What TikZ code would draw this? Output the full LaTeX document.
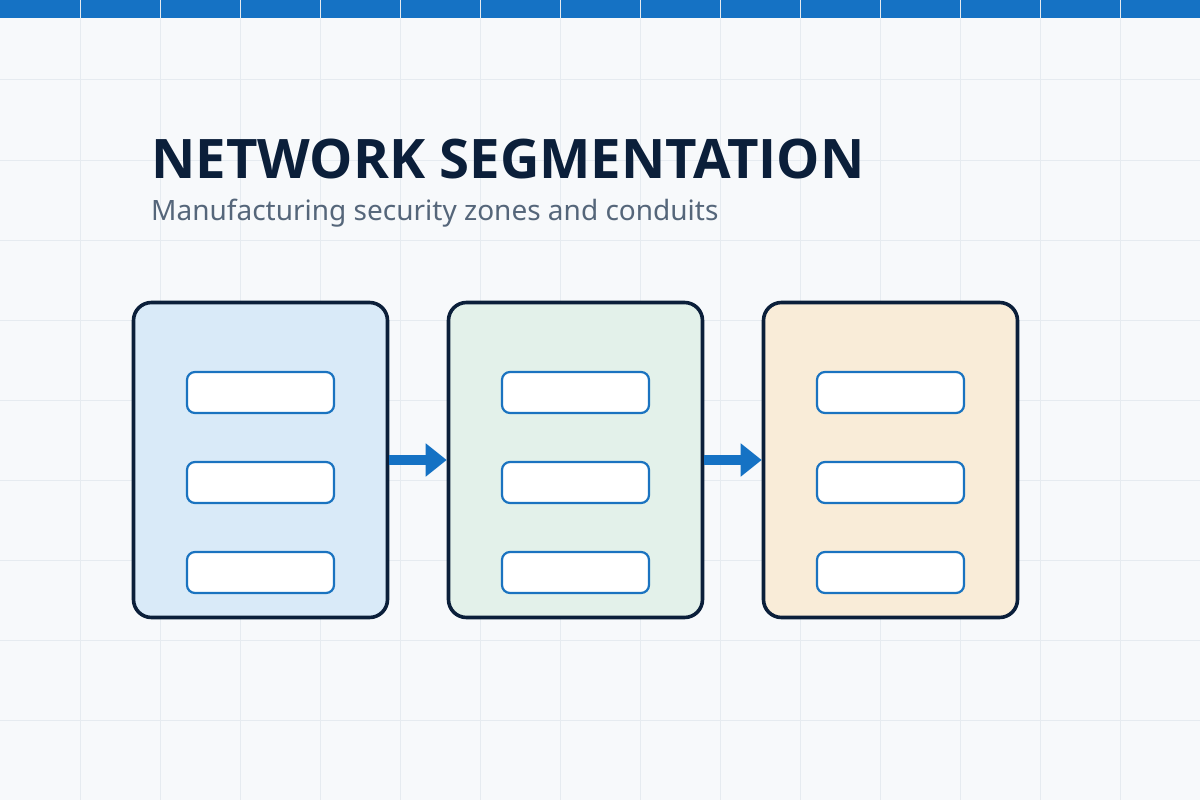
\documentclass[tikz,border=0pt]{standalone}
\usepackage{fontspec}
\setmainfont{Noto Sans}
\newfontfamily\titlefont{Open Sans}
\usetikzlibrary{arrows.meta, positioning}

\definecolor{bgpaper}{HTML}{F7F9FB}
\definecolor{gridline}{HTML}{E6EBF0}
\definecolor{topbar}{HTML}{1572C4}
\definecolor{navy}{HTML}{0B1F3A}
\definecolor{slate}{HTML}{55667A}
\definecolor{zoneblue}{HTML}{D9EAF8}
\definecolor{zonegreen}{HTML}{E3F1EA}
\definecolor{zoneorange}{HTML}{F9ECD8}
\definecolor{slotblue}{HTML}{1A73C0}

\begin{document}
\begin{tikzpicture}[
    x=1pt, y=-1pt,
    zone/.style={rectangle, draw=navy, line width=3.6pt, rounded corners=18pt, minimum width=254pt, minimum height=315pt},
    slot/.style={rectangle, draw=slotblue, fill=white, line width=2.2pt, rounded corners=8pt, minimum width=147pt, minimum height=41pt},
    conduit/.style={-{Triangle[length=21pt, width=32pt]}, draw=topbar, line width=10pt},
    heading/.style={anchor=base west, inner sep=0pt, text=navy, font=\titlefont\fontsize{54.5}{60}\selectfont\bfseries},
    subheading/.style={anchor=base west, inner sep=0pt, text=slate, font=\fontsize{28}{32}\selectfont}
]

% =================== BACKGROUND ===================
\fill[bgpaper] (0,0) rectangle (1200,800);
\useasboundingbox (0,0) rectangle (1200,800);
\fill[topbar] (0,0) rectangle (1200,18);
\foreach \gx in {80,160,...,1120}
    \draw[gridline, line width=1pt] (\gx,0) -- (\gx,800);
\foreach \gy in {80,160,...,720}
    \draw[gridline, line width=1pt] (0,\gy) -- (1200,\gy);

% =================== TITLES ===================
\node[heading] (title) at (151,178) {NETWORK SEGMENTATION};
\node[subheading] (subtitle) at (151,220) {Manufacturing security zones and conduits};

% =================== ZONES ===================
\node[zone, fill=zoneblue] (it) at (260.5,460) {};
\node[zone, fill=zonegreen] (dmz) at (575.5,460) {};
\node[zone, fill=zoneorange] (ot) at (890.5,460) {};

% Slots inside each zone
\foreach \z in {it, dmz, ot} {
    \node[slot] (\z-a) at ([yshift=67.5pt]\z.center) {};
    \node[slot] (\z-b) at ([yshift=-22.5pt]\z.center) {};
    \node[slot] (\z-c) at ([yshift=-112.5pt]\z.center) {};
}

% =================== CONDUITS ===================
\draw[conduit] (it.east) -- (dmz.west);
\draw[conduit] (dmz.east) -- (ot.west);

\end{tikzpicture}
\end{document}
